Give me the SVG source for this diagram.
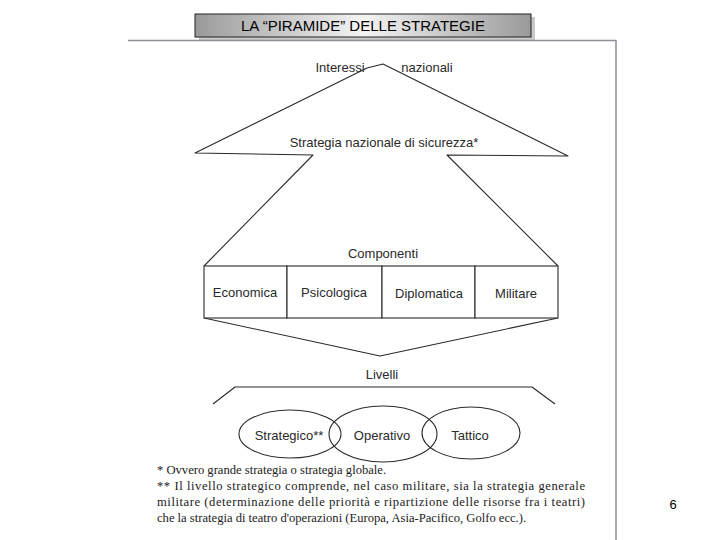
<svg xmlns="http://www.w3.org/2000/svg" width="720" height="540" viewBox="0 0 720 540">
  <defs>
    <linearGradient id="tg" x1="0" y1="0" x2="1" y2="0">
      <stop offset="0" stop-color="#9a9a9a"/>
      <stop offset="0.5" stop-color="#f4f4f4"/>
      <stop offset="1" stop-color="#9a9a9a"/>
    </linearGradient>
  </defs>
  <style>
    .ln { fill: none; stroke: #2a2a2a; stroke-width: 1.1; stroke-linejoin: round; }
    .box { fill: #ffffff; stroke: #2a2a2a; stroke-width: 1.1; }
    .lbl { font-family: "Liberation Sans", Arial, sans-serif; font-size: 13px; fill: #2a2a2a; }
    .mid { text-anchor: middle; }
    .note { font-family: "Liberation Serif", "Times New Roman", serif; font-size: 12.6px; fill: #222; }
  </style>
  <rect width="720" height="540" fill="#ffffff"/>

  <!-- title -->
  <g id="title">
    <rect x="199" y="17" width="336" height="23" fill="#c8c8c8"/>
    <rect x="195" y="14" width="336" height="23" fill="url(#tg)" stroke="#222" stroke-width="1"/>
    <text x="363" y="31" class="mid" font-family="Liberation Sans, Arial, sans-serif" font-size="15" fill="#000">LA “PIRAMIDE” DELLE STRATEGIE</text>
  </g>

  <!-- scanned page frame -->
  <g id="frame">
    <line x1="128" y1="40.5" x2="616" y2="40.5" stroke="#8a9096" stroke-width="1.5"/>
    <line x1="616" y1="40" x2="616" y2="540" stroke="#8a9096" stroke-width="1.5"/>
  </g>

  <g id="connectors">
    <path class="ln" d="M367,68 L383,64 L568,156 L447,155 L558,266"/>
    <path class="ln" d="M367,68 L195,153 L313,155 L204,266"/>
    <path class="ln" d="M204,318 L380,356 L558,318"/>
    <path class="ln" d="M213,404 L235,387 L532,387 L555,404"/>
  </g>

  <g id="interessi">
    <text x="340" y="72" class="lbl mid">Interessi</text>
  </g>
  <g id="nazionali">
    <text x="427" y="72" class="lbl mid">nazionali</text>
  </g>
  <g id="strategia">
    <text x="384" y="147" class="lbl mid">Strategia nazionale di sicurezza*</text>
  </g>
  <g id="componenti">
    <text x="383" y="258" class="lbl mid">Componenti</text>
  </g>

  <g id="economica">
    <rect class="box" x="204" y="266" width="83" height="52"/>
    <text x="245" y="297" class="lbl mid">Economica</text>
  </g>
  <g id="psicologica">
    <rect class="box" x="287" y="266" width="95" height="52"/>
    <text x="334" y="297" class="lbl mid">Psicologica</text>
  </g>
  <g id="diplomatica">
    <rect class="box" x="382" y="266" width="93" height="52"/>
    <text x="429" y="298" class="lbl mid">Diplomatica</text>
  </g>
  <g id="militare">
    <rect class="box" x="475" y="266" width="83" height="52"/>
    <text x="516" y="298" class="lbl mid">Militare</text>
  </g>

  <g id="livelli">
    <text x="382" y="379" class="lbl mid">Livelli</text>
  </g>

  <g id="strategico">
    <ellipse class="ln" cx="290" cy="434" rx="51" ry="24"/>
    <text x="289" y="440" class="lbl mid">Strategico**</text>
  </g>
  <g id="operativo">
    <ellipse class="ln" cx="383" cy="434" rx="54" ry="28"/>
    <text x="382" y="440" class="lbl mid">Operativo</text>
  </g>
  <g id="tattico">
    <ellipse class="ln" cx="471" cy="433" rx="49" ry="26"/>
    <text x="470" y="440" class="lbl mid">Tattico</text>
  </g>

  <g id="notes">
    <text x="157" y="474" class="note">* Ovvero grande strategia o strategia globale.</text>
    <text x="157" y="490" class="note" textLength="428" lengthAdjust="spacing">** Il livello strategico comprende, nel caso militare, sia la strategia generale</text>
    <text x="157" y="506" class="note" textLength="428" lengthAdjust="spacing">militare (determinazione delle priorità e ripartizione delle risorse fra i teatri)</text>
    <text x="157" y="522" class="note">che la strategia di teatro d'operazioni (Europa, Asia-Pacifico, Golfo ecc.).</text>
  </g>

  <g id="page">
    <text x="673" y="509" class="mid" font-family="Liberation Sans, Arial, sans-serif" font-size="13" fill="#000">6</text>
  </g>
</svg>
